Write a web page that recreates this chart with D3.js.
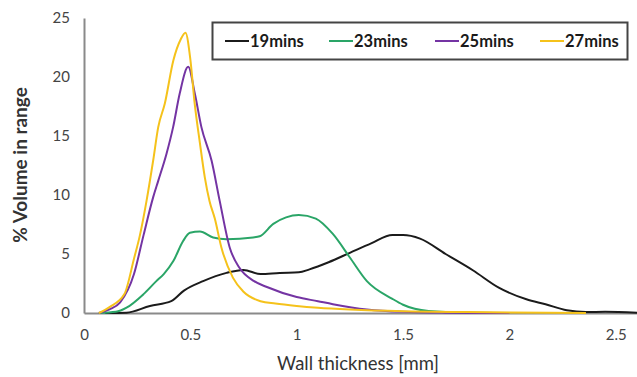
<!DOCTYPE html>
<html>
<head>
<meta charset="utf-8">
<script src="https://cdn.jsdelivr.net/npm/d3@7"></script>
<style>
  body { margin: 0; background: #fff; }
  svg { display: block; font-family: Lato, "Open Sans", sans-serif; }
</style>
</head>
<body>
<div id="chart"></div>
<script>
// series names (legend) and colours
var seriesNames = ['19mins', '23mins', '25mins', '27mins'];
var seriesColors = ['#1b1b1b', '#2aa567', '#7434a3', '#f5c21b'];

// [wall thickness mm, % volume]
var s19 = [[0.10,0],[0.20,0.03],[0.31,0.6],[0.41,1.0],[0.47,1.9],[0.56,2.7],[0.67,3.4],[0.75,3.65],[0.83,3.3],[0.92,3.4],[1.01,3.45],[1.06,3.7],[1.15,4.3],[1.25,5.1],[1.35,5.9],[1.45,6.6],[1.50,6.6],[1.58,6.3],[1.70,5.0],[1.83,3.6],[1.95,2.15],[2.08,1.16],[2.17,0.74],[2.27,0.23],[2.36,0.08],[2.45,0.1],[2.60,0.02]];
var s23 = [[0.07,0],[0.15,0.1],[0.20,0.45],[0.28,1.6],[0.34,2.7],[0.375,3.3],[0.42,4.4],[0.466,6.1],[0.498,6.8],[0.545,6.9],[0.607,6.4],[0.67,6.25],[0.795,6.4],[0.826,6.5],[0.89,7.55],[0.95,8.1],[1.01,8.3],[1.09,8.0],[1.17,6.7],[1.25,4.7],[1.33,2.7],[1.45,1.2],[1.50,0.7],[1.62,0.17],[1.80,0.03],[2.00,0]];
var s25 = [[0.07,0],[0.12,0.3],[0.17,0.9],[0.235,3.3],[0.28,6.6],[0.325,9.8],[0.349,11.2],[0.388,13.5],[0.419,15.75],[0.45,18.6],[0.49,20.86],[0.521,18.6],[0.552,15.75],[0.60,12.9],[0.638,9.5],[0.685,5.55],[0.73,3.85],[0.80,2.7],[0.86,2.2],[1.00,1.35],[1.10,1.0],[1.17,0.75],[1.33,0.3],[1.50,0.1],[1.70,0.03],[2.00,0]];
var s27 = [[0.07,0],[0.12,0.5],[0.19,1.6],[0.235,4.6],[0.263,6.6],[0.294,9.5],[0.325,12.9],[0.349,15.75],[0.38,17.75],[0.42,21.4],[0.455,23.2],[0.477,23.75],[0.50,21.5],[0.52,17.8],[0.545,14.4],[0.568,11.5],[0.59,9.5],[0.615,8.0],[0.646,5.55],[0.70,3.0],[0.75,1.8],[0.83,1.0],[0.90,0.8],[1.00,0.6],[1.10,0.45],[1.25,0.3],[1.50,0.15],[1.80,0.08],[2.00,0.05],[2.36,0]];

var xTicks = [0, 0.5, 1, 1.5, 2, 2.5];
var yTicks = [0, 5, 10, 15, 20, 25];

var width = 637, height = 377;
var margin = {top: 18, right: 0, bottom: 65, left: 84};

var svg = d3.select('#chart')
    .append('svg')
    .attr('width', width)
    .attr('height', height);

var x = d3.scaleLinear().domain([0, 2.6]).range([margin.left, width - margin.right]);
var y = d3.scaleLinear().domain([0, 25]).range([height - margin.bottom + 1, margin.top]);

// axes
var xAxis = svg.append('g')
    .attr('transform', 'translate(0,' + y(0) + ')')
    .call(d3.axisBottom(x).tickValues(xTicks).tickSize(0).tickPadding(16).tickFormat(d3.format('')));
var yAxis = svg.append('g')
    .attr('transform', 'translate(' + x(0) + ',0)')
    .call(d3.axisLeft(y).tickValues(yTicks).tickSize(0).tickPadding(14));

[xAxis, yAxis].forEach(function(a) {
    a.select('.domain').attr('stroke', '#8a8a8a').attr('stroke-width', 2);
    a.selectAll('text').attr('fill', '#444').attr('font-size', 15).attr('font-family', 'Lato, sans-serif');
});

// lines
var line = d3.line()
    .x(function(d) { return x(d[0]); })
    .y(function(d) { return y(d[1]); })
    .curve(d3.curveMonotoneX);

var allSeries = [s19, s23, s25, s27];
svg.append('g')
    .selectAll('path')
    .data(allSeries)
    .enter()
    .append('path')
    .attr('d', line)
    .attr('fill', 'none')
    .attr('stroke', function(d, i) { return seriesColors[i]; })
    .attr('stroke-width', 2);

// axis titles
svg.append('text')
    .attr('x', 358)
    .attr('y', 370)
    .attr('text-anchor', 'middle')
    .attr('font-size', 18.5)
    .attr('fill', '#333')
    .text('Wall thickness [mm]');

svg.append('text')
    .attr('transform', 'translate(27,165) rotate(-90)')
    .attr('text-anchor', 'middle')
    .attr('font-size', 19)
    .attr('font-weight', 'bold')
    .attr('fill', '#333')
    .text('% Volume in range');

// legend
var legend = svg.append('g');
legend.append('rect')
    .attr('x', 212.5)
    .attr('y', 22.5)
    .attr('width', 415)
    .attr('height', 37)
    .attr('fill', '#fff')
    .attr('stroke', '#444')
    .attr('stroke-width', 2);

var legendX = [225, 329, 435, 540];
var items = legend.selectAll('g.item')
    .data(seriesNames)
    .enter()
    .append('g')
    .attr('class', 'item')
    .attr('transform', function(d, i) { return 'translate(' + legendX[i] + ',41)'; });
items.append('line')
    .attr('x1', 0).attr('x2', 24)
    .attr('stroke', function(d, i) { return seriesColors[i]; })
    .attr('stroke-width', 2);
items.append('text')
    .attr('x', 25)
    .attr('y', 5.5)
    .attr('font-size', 16.5)
    .attr('font-weight', 'bold')
    .attr('fill', '#1a1a1a')
    .text(function(d) { return d; });
</script>
</body>
</html>
